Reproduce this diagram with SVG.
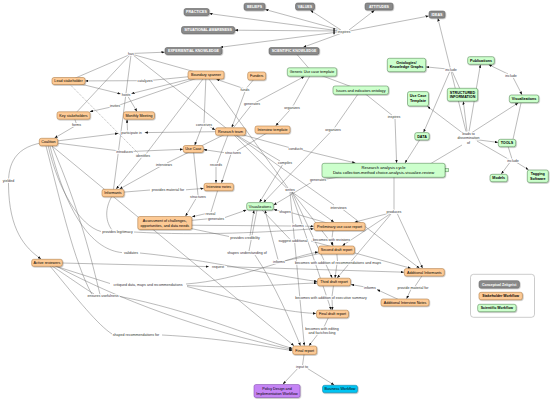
<svg xmlns="http://www.w3.org/2000/svg" width="550" height="401" viewBox="0 0 550 401">
<defs>
<marker id="ah" viewBox="0 0 10 8" refX="10" refY="4" markerWidth="3.2" markerHeight="2.6" markerUnits="userSpaceOnUse" orient="auto"><path d="M0,0 L10,4 L0,8z" fill="#111"/></marker>
<filter id="sh" x="-10%" y="-20%" width="130%" height="160%"><feDropShadow dx="0.6" dy="0.7" stdDeviation="0.35" flood-color="#000" flood-opacity="0.35"/></filter>
</defs>
<style>
text{font-family:"Liberation Sans",Arial,sans-serif;text-anchor:middle}
.c path{fill:none;stroke:#666;stroke-width:0.45}
.c path.a{marker-end:url(#ah)}
.c path.d{stroke-dasharray:1.2,1}
.lb text{font-size:3.6px;fill:#333;stroke:#fff;stroke-width:1.6;paint-order:stroke;stroke-linejoin:round}
.nd rect{filter:url(#sh);stroke-width:0.5}
.nd text{font-size:3.7px;fill:#000}
.g rect{fill:#8a8a8a;stroke:#5a5a5a}
.g text{fill:#fff;font-weight:bold;font-size:3.6px}
.o rect{fill:#fdca95;stroke:#a8743c}
.n rect{fill:#ccffcc;stroke:#4d7f4d}
.b text{font-weight:bold}
</style>
<rect width="550" height="401" fill="#fff"/>
<g id="connectors" class="c">
<path class="a" d="M340,31 L209.3,13.6"/>
<path class="a" d="M340,30 L265.3,9.5"/>
<path class="a" d="M341,30 L310.4,10.3"/>
<path class="a" d="M349,30 L374.5,10.3"/>
<path class="a" d="M350,31 L428.7,16"/>
<path class="a" d="M338,31 L234.8,30.2"/>
<path class="a" d="M338,32 L220.2,47.3"/>
<path class="a" d="M342,33 L303.3,47.2"/>
<path class="a" d="M131,53.5 L164.7,52.2"/>
<path d="M68.5,81 L130,54.5"/>
<path d="M73.5,115.5 L130,55"/>
<path d="M206,75 L133,54.5"/>
<path d="M230.5,131.5 L133,55"/>
<path d="M113,193 L131,55"/>
<path d="M206,75 L150,80.5"/>
<path class="a" d="M140,80.7 L85.3,80.9"/>
<path class="a" d="M68.5,81 L120.6,93.9"/>
<path class="a" d="M206,75 L131.4,93.6"/>
<path class="a" d="M128,96.5 L137,111.5"/>
<path d="M206,75 L119,105.2"/>
<path class="a" d="M112,106.8 L89.8,111.7"/>
<path d="M73.5,115.5 L76.5,124"/>
<path class="a" d="M74.5,126.3 L54.6,138"/>
<path class="a" d="M48.5,142 L118.3,133.4"/>
<path class="a" d="M230.5,131.5 L144.7,132.6"/>
<path class="a" d="M127.5,131 L127,119.5"/>
<path d="M48.5,142 L118,150.8"/>
<path class="a" d="M131,151.5 L183,149.3"/>
<path class="d" d="M70,84.5 L139,154"/>
<path d="M206,75 L146,154"/>
<path class="a" d="M142,157 L116.2,189"/>
<path d="M230.5,131.5 L167,163"/>
<path class="a" d="M161,166 L119.6,189"/>
<path d="M113,193 L150,190"/>
<path class="a" d="M186,189.8 L203.7,188.4"/>
<path class="a" d="M48.5,142 C14,145 8,165 8.5,185 C9,230 25,248 41,258.9"/>
<path d="M48,145 C58,190 80,226 101,231.5"/>
<path d="M112,196 C104,210 106,222 112,230"/>
<path class="a" d="M134,232 C200,236 270,232 313.7,228.8"/>
<path d="M50,146 C68,220 95,250 122,252.6"/>
<path class="a" d="M140,253 C210,260 270,275 317.3,281.5"/>
<path d="M46,146 C60,200 74,262 92,294.5"/>
<path d="M52,146 C80,210 92,262 100,294.5"/>
<path d="M52,266 C70,278 84,288 94,294"/>
<path class="a" d="M120,296.5 C190,310 250,336 292.4,348.5"/>
<path class="a" d="M52,146 L294,345.8"/>
<path class="a" d="M62,263 L208.8,266.6"/>
<path class="a" d="M227,266.7 L404,272.2"/>
<path d="M55,266 L110,283.5"/>
<path class="a" d="M186,284 C240,280 285,258 318.2,252"/>
<path class="a" d="M187,285.5 C240,289 280,284 317.2,283"/>
<path class="a" d="M187,286.5 C240,300 280,312 316.2,313.5"/>
<path d="M50,266 C78,300 98,325 112,334"/>
<path class="a" d="M162,335 C220,338 262,346 292.4,350.6"/>
<path class="a" d="M56,266 C120,300 200,330 292.4,349.5"/>
<path d="M256.7,76 L246,88.6"/>
<path class="a" d="M244,88.6 L216.4,79.3"/>
<path class="a" d="M245,91.5 L231.8,127.5"/>
<path d="M230.5,131.5 L251,105.5"/>
<path class="a" d="M256,102.3 L304.3,76.5"/>
<path d="M312,72 L293,106"/>
<path class="a" d="M291,108.8 L275.7,125.7"/>
<path d="M206,75 L204,123.5"/>
<path class="a" d="M209,126 L215.2,130"/>
<path class="a" d="M202,126.5 L194.7,145.2"/>
<path d="M360.7,90.2 L334,128.5"/>
<path class="a" d="M331,131.5 L263.6,202.3"/>
<path d="M360.7,90.2 L392,115.2"/>
<path class="a" d="M395,118.3 L396.6,163"/>
<path d="M312,72 L360.7,90.2"/>
<path d="M294,51 L312,72"/>
<path d="M462.5,94.7 L452,71"/>
<path class="a" d="M447.5,69 L426,66.9"/>
<path class="a" d="M450,71 L423.6,132.3"/>
<path class="a" d="M508,74 L488.6,64.6"/>
<path class="a" d="M513,77.3 L522,94.7"/>
<path d="M430,164 L462,145"/>
<path class="a" d="M466,131.5 L437.9,18.3"/>
<path class="a" d="M464,134 L427.4,106.3"/>
<path class="a" d="M467,131.5 L463.3,101.4"/>
<path class="a" d="M469,131.5 L480.4,64.6"/>
<path class="a" d="M472,132.5 L518.2,102.9"/>
<path class="a" d="M475,139.5 L498,142.4"/>
<path d="M477,141 L509,159.5"/>
<path d="M507,143 L512,159"/>
<path class="a" d="M510,162.3 L501.3,174"/>
<path class="a" d="M516.5,162.3 L528.5,169.8"/>
<path d="M521,103 L513,139.3"/>
<path class="a" d="M422,136.3 L405,163"/>
<path d="M230.5,131.5 L289,147.5"/>
<path class="a" d="M302,150 L355.4,163"/>
<path d="M230.5,131.5 L280,161"/>
<path class="a" d="M283,164 L259.5,202.3"/>
<path d="M383.5,170.3 L321,179.8"/>
<path class="a" d="M312,182 L273.6,205"/>
<path d="M230.5,131.5 L287,188.5"/>
<path d="M206,75 L288,188"/>
<path class="a" d="M292,192 L333.9,222.1"/>
<path class="a" d="M292,192 L333.4,245.6"/>
<path class="a" d="M292,192 L332.2,277.9"/>
<path class="a" d="M291,192 L331.2,309.9"/>
<path class="a" d="M290,192 L304.3,345.7"/>
<path d="M230.5,131.5 L334,205"/>
<path class="a" d="M343,209.5 L419.5,268.3"/>
<path d="M394,177 L394,210"/>
<path class="a" d="M390,213 L354.5,222.2"/>
<path class="a" d="M390,214 L342.4,245.7"/>
<path class="a" d="M391,214 L337.2,277.9"/>
<path class="a" d="M397,213 L422.6,268.3"/>
<path d="M339.5,226.5 L290,212.3"/>
<path class="a" d="M280,211 L273.6,209.4"/>
<path d="M218.7,187 L211,212"/>
<path class="a" d="M205,213.8 L192.1,216.8"/>
<path d="M164.8,223 L208,218.8"/>
<path class="a" d="M225,217.5 L246.4,210"/>
<path d="M193.3,149 L198,195"/>
<path class="a" d="M196,198.5 L185.5,216.2"/>
<path d="M164.8,225 L291,226"/>
<path class="a" d="M305,226.1 L313.7,226.3"/>
<path d="M272.5,129.7 L237,150.8"/>
<path class="a" d="M231,154 L221.5,183"/>
<path class="a" d="M224,152.6 L203.6,149.6"/>
<path d="M228,135 L217,163.6"/>
<path class="a" d="M216,166.5 L216,183"/>
<path d="M262,210 L290,239.3"/>
<path class="a" d="M311,241 L410.9,268.3"/>
<path d="M333,230 L332,238"/>
<path class="a" d="M332,240.6 L332.5,245.6"/>
<path d="M336.5,250 L337.5,261"/>
<path class="a" d="M337,263.6 L335,277.9"/>
<path d="M334,282 L332,296.3"/>
<path class="a" d="M332,299 L332.5,309.9"/>
<path d="M330,314 L324,327"/>
<path class="a" d="M318,334 L309,345.7"/>
<path d="M304.7,350 L302.5,365.3"/>
<path class="a" d="M298,368.2 L282.9,384.2"/>
<path class="a" d="M307,368.2 L334.2,385"/>
<path d="M424.3,272.3 L415,286.4"/>
<path class="a" d="M411,289.2 L406.6,298.7"/>
<path class="a" d="M405,302.5 L377,289.6"/>
<path class="a" d="M364,286.8 L351,284.5"/>
<path d="M164.8,223 L229,236.5"/>
<path class="a" d="M250,235.6 L254,210.3"/>
<path d="M257,210 L249,251"/>
<path class="a" d="M255,255 C275,285 290,320 300.5,345.7"/>
<path d="M336.5,250 L285,260.8"/>
<path class="a" d="M278,259.6 L265,210.3"/>
</g>
<rect x="333.4" y="28" width="1.3" height="6.2" fill="#111"/>
<g id="link-labels" class="lb">
<text x="344" y="32.8">inspires</text>
<text x="131" y="54.8">has</text>
<text x="145" y="82">catalyzes</text>
<text x="126" y="96.3">hosts</text>
<text x="115" y="107.3">invites</text>
<text x="76.5" y="126.3">forms</text>
<text x="131.5" y="134">participate in</text>
<text x="245" y="91.3">funds</text>
<text x="252" y="105.3">generates</text>
<text x="292" y="108.6">organizes</text>
<text x="204" y="126.3">conceives</text>
<text x="333" y="131.3">organizes</text>
<text x="394" y="118">inspires</text>
<text x="451" y="70.6">include</text>
<text x="511" y="77">include</text>
<text x="468.5" y="134.8">leads to</text>
<text x="468.5" y="139.4">dissemination</text>
<text x="468.5" y="144">of</text>
<text x="513" y="162">include</text>
<text x="394" y="213">produces</text>
<text x="143" y="157">identifies</text>
<text x="124.5" y="152.6">introduces</text>
<text x="164" y="165.6">interviews</text>
<text x="8.5" y="182">yielded</text>
<text x="168" y="191.3">provides material for</text>
<text x="117.5" y="233">provides legitimacy</text>
<text x="131" y="254">validates</text>
<text x="216" y="166.3">records</text>
<text x="233" y="153.6">structures</text>
<text x="198" y="198">structures</text>
<text x="295.7" y="149.6">conducts</text>
<text x="285" y="163.6">compiles</text>
<text x="318" y="181.3">generates</text>
<text x="290" y="191.3">writes</text>
<text x="338.5" y="209">interviews</text>
<text x="210.5" y="214.8">reveal</text>
<text x="216" y="220">generates</text>
<text x="285" y="213">shapes</text>
<text x="298" y="227.3">informs</text>
<text x="293" y="242">suggest additional</text>
<text x="331.5" y="240.6">becomes with revisions</text>
<text x="245" y="238.6">provides credibility</text>
<text x="247" y="254">shapes understanding of</text>
<text x="279" y="262.8">informs</text>
<text x="338" y="263.6">becomes with addition of recommendations and maps</text>
<text x="218" y="268">request</text>
<text x="370" y="288.6">informs</text>
<text x="413" y="289">provide material for</text>
<text x="331" y="299">becomes with addition of executive summary</text>
<text x="322" y="329.6">becomes with editing</text>
<text x="322" y="334">and factchecking</text>
<text x="302" y="368">input to</text>
<text x="148" y="286.3">critiqued data, maps and recommendations</text>
<text x="103" y="297.3">ensures usefulness</text>
<text x="136" y="336.3">shaped recommendations for</text>
</g>
<g id="n-practices" class="nd g"><rect x="184" y="8.5" width="25" height="7" rx="2"/><text x="196.5" y="13.3">PRACTICES</text></g>
<g id="n-beliefs" class="nd g"><rect x="244" y="3.2" width="21" height="7" rx="2"/><text x="254.5" y="8">BELIEFS</text></g>
<g id="n-values" class="nd g"><rect x="295.5" y="3" width="19" height="7" rx="2"/><text x="305" y="7.8">VALUES</text></g>
<g id="n-attitudes" class="nd g"><rect x="365" y="3" width="28" height="7" rx="2"/><text x="379" y="7.8">ATTITUDES</text></g>
<g id="n-ideas" class="nd g"><rect x="429" y="11" width="16" height="7" rx="2"/><text x="437" y="15.8">IDEAS</text></g>
<g id="n-situational" class="nd g"><rect x="181.5" y="26.5" width="53" height="7" rx="2"/><text x="208" y="31.3">SITUATIONAL AWARENESS</text></g>
<g id="n-experiential" class="nd g"><rect x="165" y="47.5" width="57" height="7" rx="2"/><text x="193.5" y="52.3">EXPERIENTIAL KNOWLEDGE</text></g>
<g id="n-scientific" class="nd g"><rect x="269" y="47.5" width="50" height="7" rx="2"/><text x="294" y="52.3">SCIENTIFIC KNOWLEDGE</text></g>
<g id="n-lead" class="nd o"><rect x="52" y="77.5" width="33" height="7" rx="2"/><text x="68.5" y="82.3">Lead stakeholder</text></g>
<g id="n-key" class="nd o"><rect x="57" y="111.8" width="33" height="7.4" rx="2"/><text x="73.5" y="116.8">Key stakeholders</text></g>
<g id="n-monthly" class="nd o"><rect x="123.5" y="111.8" width="31" height="7.4" rx="2"/><text x="139" y="116.8">Monthly Meeting</text></g>
<g id="n-boundary" class="nd o"><rect x="188" y="71" width="36" height="8" rx="2"/><text x="206" y="76.3">Boundary spanner</text></g>
<g id="n-funders" class="nd o"><rect x="247.7" y="72" width="18" height="8" rx="2"/><text x="256.7" y="77.3">Funders</text></g>
<g id="n-research-team" class="nd o"><rect x="215.5" y="127.8" width="30" height="7.4" rx="2"/><text x="230.5" y="132.8">Research team</text></g>
<g id="n-interview-template" class="nd o"><rect x="255" y="126" width="35" height="7.4" rx="2"/><text x="272.5" y="131">Interview template</text></g>
<g id="n-use-case" class="nd o"><rect x="183.3" y="145.5" width="20" height="7" rx="2"/><text x="193.3" y="150.3">Use Case</text></g>
<g id="n-coalition" class="nd o"><rect x="39.3" y="138.3" width="18.4" height="7.4" rx="2"/><text x="48.5" y="143.3">Coalition</text></g>
<g id="n-informants" class="nd o"><rect x="102" y="189.3" width="22" height="7.4" rx="2"/><text x="113" y="194.3">Informants</text></g>
<g id="n-interview-notes" class="nd o"><rect x="204" y="183.3" width="29.4" height="7.4" rx="2"/><text x="218.7" y="188.3">Interview notes</text></g>
<g id="n-assessment" class="nd o"><rect x="137.8" y="216.5" width="54" height="13" rx="2"/><text x="164.8" y="222">Assessment of challenges,</text><text x="164.8" y="226.6">opportunities, and data needs</text></g>
<g id="n-preliminary" class="nd o"><rect x="314" y="222.5" width="51" height="8" rx="2"/><text x="339.5" y="227.8">Preliminary use case report</text></g>
<g id="n-second" class="nd o"><rect x="318.5" y="246" width="36" height="8" rx="2"/><text x="336.5" y="251.3">Second draft report</text></g>
<g id="n-third" class="nd o"><rect x="317.5" y="278.2" width="33" height="7.6" rx="2"/><text x="334" y="283.3">Third draft report</text></g>
<g id="n-final-draft" class="nd o"><rect x="316.5" y="310.2" width="32" height="7.6" rx="2"/><text x="332.5" y="315.3">Final draft report</text></g>
<g id="n-final-report" class="nd o"><rect x="292.7" y="346" width="24" height="8.4" rx="2"/><text x="304.7" y="351.5">Final report</text></g>
<g id="n-active" class="nd o"><rect x="31.7" y="259.3" width="30.6" height="7" rx="2"/><text x="47" y="264.1">Active reviewers</text></g>
<g id="n-add-informants" class="nd o"><rect x="404.3" y="268.6" width="40" height="7.4" rx="2"/><text x="424.3" y="273.6">Additional Informants</text></g>
<g id="n-add-notes" class="nd o"><rect x="381" y="299" width="48" height="7" rx="2"/><text x="405" y="303.8">Additional Interview Notes</text></g>
<g id="n-policy" class="nd"><rect x="254" y="384.5" width="46" height="13" rx="2" fill="#c584f5" stroke="#7d4aa8"/><text x="277" y="389.9">Policy Design and</text><text x="277" y="394.5">Implementation Workflow</text></g>
<g id="n-business" class="nd"><rect x="322.5" y="385.3" width="35" height="7.4" rx="2" fill="#00c4f2" stroke="#1f7fa0"/><text x="340" y="390.3">Business Workflow</text></g>
<g id="n-generic" class="nd n"><rect x="287.3" y="67.8" width="49.4" height="8.4" rx="2"/><text x="312" y="73.3">Generic Use case template</text></g>
<g id="n-issues" class="nd n"><rect x="333" y="86" width="55.4" height="8.4" rx="2"/><text x="360.7" y="91.5">Issues and indicators ontology</text></g>
<g id="n-ontologies" class="nd n b"><rect x="387.3" y="58.3" width="38.4" height="13.4" rx="2"/><text x="406.5" y="63.6">Ontologies/</text><text x="406.5" y="68.3">Knowledge Graphs</text></g>
<g id="n-publications" class="nd n b"><rect x="467.7" y="56.7" width="26.6" height="7.6" rx="2"/><text x="481" y="61.8">Publications</text></g>
<g id="n-uct" class="nd n b"><rect x="407.5" y="91.6" width="21" height="14.4" rx="2"/><text x="418" y="97.3">Use Case</text><text x="418" y="102">Template</text></g>
<g id="n-structured" class="nd n b"><rect x="447.3" y="88.3" width="30.4" height="12.8" rx="2"/><text x="462.5" y="93.7">STRUCTURED</text><text x="462.5" y="98.3">INFORMATION</text></g>
<g id="n-vis-right" class="nd n b"><rect x="509.3" y="95" width="29.4" height="7.6" rx="2"/><text x="524" y="100.1">Visualizations</text></g>
<g id="n-data" class="nd n b"><rect x="414.8" y="132.6" width="14.4" height="7.4" rx="2"/><text x="422" y="137.6">DATA</text></g>
<g id="n-tools" class="nd n b"><rect x="498.3" y="139.3" width="17.4" height="7.4" rx="2"/><text x="507" y="144.3">TOOLS</text></g>
<g id="n-models" class="nd n b"><rect x="490" y="174.3" width="17.4" height="7.4" rx="2"/><text x="498.7" y="179.3">Models</text></g>
<g id="n-tagging" class="nd n b"><rect x="527.3" y="170" width="21" height="12.4" rx="2"/><text x="537.8" y="175.3">Tagging</text><text x="537.8" y="179.9">Software</text></g>
<g id="n-rac" class="nd n"><rect x="322" y="163.3" width="123" height="14" rx="2"/><text x="383.5" y="169" style="font-size:4.1px">Research analysis cycle</text><text x="383.5" y="174.4" style="font-size:4.1px">Data collection-method choice-analysis-visualize-review</text><rect x="445.6" y="168.6" width="2.8" height="3.2" fill="#eee" stroke="#333" stroke-width="0.35" style="filter:none"/></g>
<g id="n-vis-center" class="nd n"><rect x="246.7" y="202.6" width="26.6" height="7.4" rx="2"/><text x="260" y="207.6">Visualizations</text></g>
<g id="legend">
<rect x="470.5" y="274.3" width="64" height="43" rx="3" fill="#fff" stroke="#aaa" stroke-width="0.6"/>
<g id="legend-zeitgeist" class="nd g"><rect x="479" y="280.7" width="40.4" height="7.4" rx="2"/><text x="499.2" y="285.6" style="font-size:3.5px">Conceptual Zeitgeist</text></g>
<g id="legend-stakeholder" class="nd o b"><rect x="479" y="292.3" width="43.4" height="7.4" rx="2"/><text x="500.7" y="297.2" style="font-size:3.5px">Stakeholder Workflow</text></g>
<g id="legend-scientific" class="nd n b"><rect x="477.7" y="304.3" width="38.4" height="7.4" rx="2"/><text x="496.9" y="309.2" style="font-size:3.5px">Scientific Workflow</text></g>
</g>
</svg>
